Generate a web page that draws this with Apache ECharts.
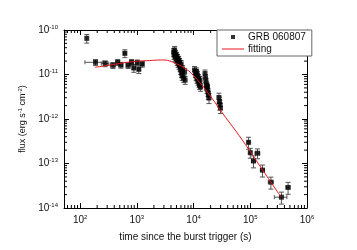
<!DOCTYPE html>
<html><head><meta charset="utf-8">
<script src="https://cdn.jsdelivr.net/npm/echarts@6/dist/echarts.min.js"></script>
<style>html,body{margin:0;padding:0;background:#fff}#c{width:357px;height:250px}</style>
</head><body><div id="c"></div>
<script>
// ---- data ----
const obsTime = [131,187,278,379,460,524,615,703,807,885,1020,1084,1250,
 4460,4550,4640,4730,4830,4930,5030,5140,5240,5350,5460,5570,5680,5800,5920,6040,6160,6290,6410,6680,6950,7100,
 10400,10800,11100,11300,11500,11700,12000,12200,12500,12700,13000,13300,
 15900,16300,16600,16900,17300,17600,18000,18300,18700,
 28000,28600,29200,29800,
 93300,100000,134000,114000,164000,231000,354000,464000];
const obsFlux = [6.5e-11,1.88e-11,1.76e-11,1.61e-11,1.88e-11,1.63e-11,2.99e-11,1.61e-11,1.88e-11,1.40e-11,1.84e-11,1.31e-11,1.72e-11,
 3.21e-11,2.74e-11,3.56e-11,2.47e-11,2.89e-11,2.29e-11,2.61e-11,2.01e-11,2.35e-11,1.81e-11,2.12e-11,1.63e-11,1.91e-11,1.48e-11,1.26e-11,1.72e-11,1.08e-11,9.25e-12,1.33e-11,8.34e-12,1.14e-11,7.51e-12,
 1.26e-11,1.08e-11,9.25e-12,1.17e-11,7.92e-12,9.75e-12,7.15e-12,8.34e-12,6.44e-12,5.81e-12,7.51e-12,5.24e-12,
 1.05e-11,8.34e-12,6.78e-12,5.66e-12,4.72e-12,5.37e-12,4.05e-12,3.46e-12,2.96e-12,
 3.04e-12,2.47e-12,2.12e-12,1.77e-12,
 2.99e-13,1.75e-13,1.70e-13,1.14e-13,7.1e-14,3.8e-14,1.75e-14,2.9e-14];
// fractional flux error
const fluxErr = [0.22,0.15,0.15,0.15,0.15,0.15,0.2,0.15,0.15,0.2,0.15,0.2,0.15,
 0.2,0.2,0.2,0.2,0.2,0.2,0.2,0.2,0.2,0.2,0.2,0.2,0.2,0.2,0.2,0.2,0.2,0.2,0.2,0.2,0.2,0.2,
 0.2,0.2,0.2,0.2,0.2,0.2,0.2,0.2,0.2,0.2,0.2,0.2,
 0.2,0.2,0.2,0.2,0.2,0.2,0.2,0.2,0.25,
 0.25,0.25,0.25,0.25,
 0.3,0.25,0.25,0.3,0.3,0.3,0.3,0.3];
// fractional time half-width
const timeErr = [0,0.35,0.15,0.1,0.08,0.08,0.05,0.08,0.06,0.06,0.06,0.05,0.05,
 0,0,0,0,0,0,0,0,0,0,0,0,0,0,0,0,0,0,0,0,0,0,
 0,0,0,0,0,0,0,0,0,0,0,0,
 0,0,0,0,0,0,0,0,0,
 0,0,0,0,
 0.05,0.05,0.1,0.08,0.08,0.1,0.25,0.08];
const fitTime = [183,336,753,1690,2860,3800,4640,6950,10400,19100,32300,72400,156000,350000];
const fitFlux = [1.45e-11,1.63e-11,1.91e-11,2.06e-11,2.12e-11,2.01e-11,1.81e-11,1.40e-11,8.93e-12,3.46e-12,1.36e-12,3.37e-13,7.94e-14,1.75e-14];
const xMin = 52, xMax = 1e6, yMin = 1e-14, yMax = 1e-10;
const seriesNames = ['GRB 060807', 'fitting'];
const xTitle = 'time since the burst trigger (s)';

// ---- helpers ----
function pow10Label(v){
  const e = Math.log10(v); const r = Math.round(e);
  if (Math.abs(e - r) > 1e-6) return '';
  return '10{sup|' + r + '}';
}
function minorVals(lo, hi){
  const out = [];
  for (let e = Math.floor(Math.log10(lo)); e <= Math.ceil(Math.log10(hi)); e++){
    for (let m = 2; m <= 9; m++){ const v = m * Math.pow(10, e); if (v > lo && v < hi) out.push(v); }
  }
  return out;
}
const FONT = 'Liberation Sans, Arial, sans-serif';
const labelStyle = {fontFamily: FONT, fontSize: 10, color: '#111',
  rich: {sup: {fontFamily: FONT, fontSize: 6, verticalAlign: 'top', padding: [0,0,6,0], color:'#111'}}};
const axisLine = {show: true, lineStyle: {color: '#000', width: 1}};

const chart = echarts.init(document.getElementById('c'), null, {renderer: 'canvas'});
const errData = obsTime.map((t, i) => [t, obsFlux[i], obsFlux[i]*(1-fluxErr[i]), obsFlux[i]*(1+fluxErr[i]), t*(1-timeErr[i]), t*(1+timeErr[i])]);
const xMinor = minorVals(xMin, xMax).map(v => [v, 1e-12]);
const yMinor = minorVals(yMin, yMax).map(v => [1000, v]);

chart.setOption({
  animation: false,
  backgroundColor: '#fff',
  grid: {left: 64, top: 30, right: 50, bottom: 42, containLabel: false},
  xAxis: [
    {type: 'log', logBase: 10, min: xMin, max: xMax, position: 'bottom',
     name: xTitle, nameLocation: 'middle', nameGap: 24,
     nameTextStyle: {fontFamily: FONT, fontSize: 10, color: '#111'},
     axisLine, axisTick: {inside: true, length: 5, lineStyle: {color: '#000'}},
     axisLabel: {formatter: pow10Label, margin: 6, ...labelStyle},
     splitLine: {show: false}},
    {type: 'log', logBase: 10, min: xMin, max: xMax, position: 'top',
     axisLine, axisTick: {inside: true, length: 5, lineStyle: {color: '#000'}},
     axisLabel: {show: false}, splitLine: {show: false}}
  ],
  yAxis: [
    {type: 'log', logBase: 10, min: yMin, max: yMax, position: 'left',
     name: 'flux (erg s{sup|-1} cm{sup|-2})', nameLocation: 'middle', nameGap: 23, nameRotate: 90,
     nameTextStyle: {fontFamily: FONT, fontSize: 9, color: '#111',
       rich: {sup: {fontFamily: FONT, fontSize: 6, verticalAlign: 'top', padding: [0,0,5,0], color: '#111'}}},
     axisLine, axisTick: {inside: true, length: 5, lineStyle: {color: '#000'}},
     axisLabel: {formatter: pow10Label, margin: 6, ...labelStyle},
     splitLine: {show: false}},
    {type: 'log', logBase: 10, min: yMin, max: yMax, position: 'right',
     axisLine, axisTick: {inside: true, length: 5, lineStyle: {color: '#000'}},
     axisLabel: {show: false}, splitLine: {show: false}}
  ],
  legend: {
    left: 217, top: 30, orient: 'vertical', itemGap: 0, itemWidth: 22, itemHeight: 8,
    borderColor: '#666', borderWidth: 1, borderRadius: 0, padding: [1, 6, 1, 5], backgroundColor: '#fff',
    textStyle: {fontFamily: FONT, fontSize: 10, color: '#111', lineHeight: 12, padding: [0,0,0,-1]},
    data: [
      {name: seriesNames[0], icon: 'path://M0,0L0,0M22,8L22,8M9,2h4v4h-4z', itemStyle: {color: '#000'}},
      {name: seriesNames[1], icon: 'path://M0,0L0,0M22,8L22,8M0,3.5h22v1h-22z', itemStyle: {color: '#e8141b'}}
    ]
  },
  series: [
    {type: 'custom', silent: true, coordinateSystem: 'cartesian2d', data: xMinor, z: 1,
     renderItem(params, api){
       const p = api.coord([api.value(0), api.value(1)]); const cs = params.coordSys;
       return {type: 'group', children: [
         {type: 'line', shape: {x1: p[0], y1: cs.y + cs.height, x2: p[0], y2: cs.y + cs.height - 3}, style: {stroke: '#000', lineWidth: 1}},
         {type: 'line', shape: {x1: p[0], y1: cs.y, x2: p[0], y2: cs.y + 3}, style: {stroke: '#000', lineWidth: 1}}
       ]};
     }},
    {type: 'custom', silent: true, coordinateSystem: 'cartesian2d', data: yMinor, z: 1,
     renderItem(params, api){
       const p = api.coord([api.value(0), api.value(1)]); const cs = params.coordSys;
       return {type: 'group', children: [
         {type: 'line', shape: {x1: cs.x, y1: p[1], x2: cs.x + 3, y2: p[1]}, style: {stroke: '#000', lineWidth: 1}},
         {type: 'line', shape: {x1: cs.x + cs.width, y1: p[1], x2: cs.x + cs.width - 3, y2: p[1]}, style: {stroke: '#000', lineWidth: 1}}
       ]};
     }},
    {type: 'custom', silent: true, coordinateSystem: 'cartesian2d', data: errData, z: 2,
     renderItem(params, api){
       const c = api.coord([api.value(0), api.value(1)]);
       const lo = api.coord([api.value(0), api.value(2)]);
       const hi = api.coord([api.value(0), api.value(3)]);
       const l = api.coord([api.value(4), api.value(1)]);
       const r = api.coord([api.value(5), api.value(1)]);
       const st = {stroke: '#555', lineWidth: 1};
       const ch = [
         {type: 'line', shape: {x1: c[0], y1: lo[1], x2: c[0], y2: hi[1]}, style: st},
         {type: 'line', shape: {x1: c[0]-2.5, y1: lo[1], x2: c[0]+2.5, y2: lo[1]}, style: st},
         {type: 'line', shape: {x1: c[0]-2.5, y1: hi[1], x2: c[0]+2.5, y2: hi[1]}, style: st}
       ];
       if (r[0] - l[0] > 1) {
         ch.push({type: 'line', shape: {x1: l[0], y1: c[1], x2: r[0], y2: c[1]}, style: st});
         ch.push({type: 'line', shape: {x1: l[0], y1: c[1]-2, x2: l[0], y2: c[1]+2}, style: st});
         ch.push({type: 'line', shape: {x1: r[0], y1: c[1]-2, x2: r[0], y2: c[1]+2}, style: st});
       }
       return {type: 'group', children: ch};
     }},
    {name: seriesNames[0], type: 'scatter', symbol: 'rect', symbolSize: 5, z: 3,
     itemStyle: {color: '#000'}, data: obsTime.map((t, i) => [t, obsFlux[i]])},
    {name: seriesNames[1], type: 'line', smooth: true, symbol: 'none', z: 4,
     lineStyle: {color: '#e8141b', width: 1}, itemStyle: {color: '#e8141b'},
     data: fitTime.map((t, i) => [t, fitFlux[i]])}
  ]
});
</script></body></html>
